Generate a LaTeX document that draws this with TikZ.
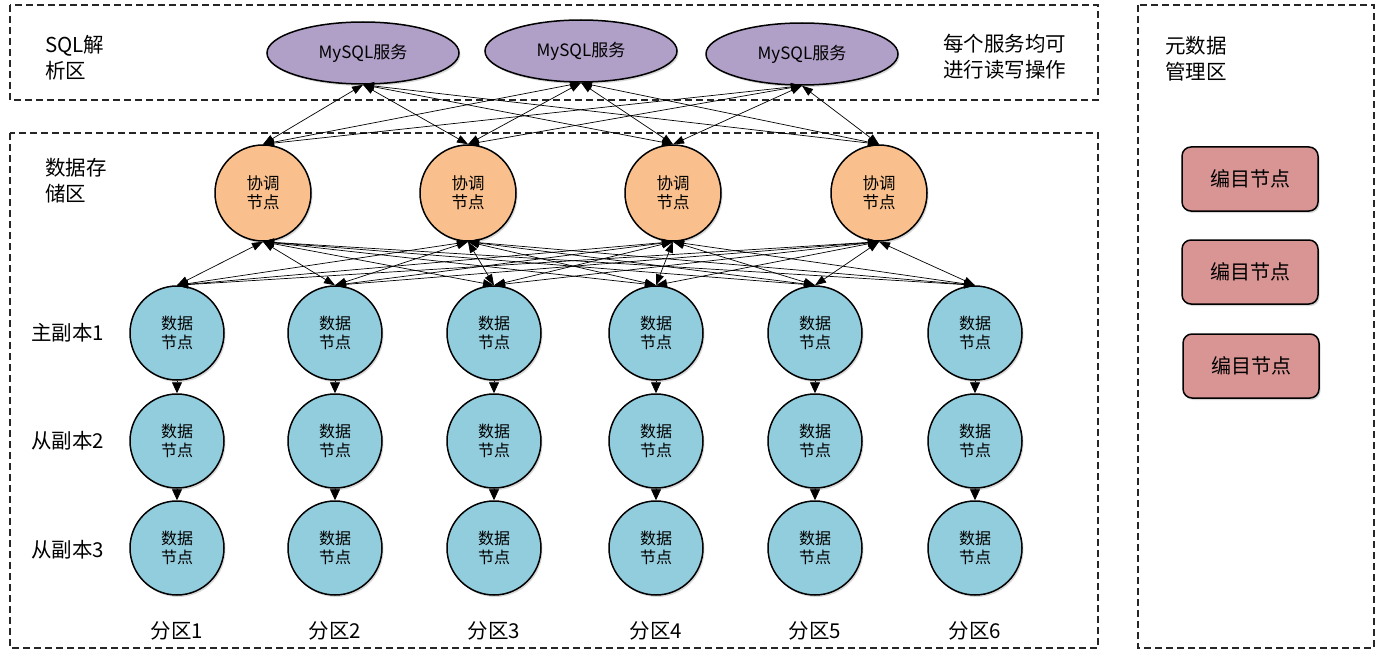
\documentclass[tikz,border=0pt]{standalone}
\usepackage{fontspec}
\setmainfont{Noto Sans CJK SC}
\usetikzlibrary{arrows.meta,shadows,shapes.geometric}

\definecolor{morado}{HTML}{B09FC6}
\definecolor{naranja}{HTML}{F9C08D}
\definecolor{celeste}{HTML}{92CDDD}
\definecolor{rosado}{HTML}{D99594}

\tikzset{
  zona/.style={dashed, dash pattern=on 7pt off 4pt, line width=1.5pt, color=black!85},
  sombra/.style={drop shadow={opacity=0.3, shadow xshift=1.5pt, shadow yshift=-2pt}},
  servicio/.style={ellipse, draw, line width=1.5pt, fill=morado, sombra,
    minimum width=192pt, minimum height=62pt, inner sep=0pt, font=\fontsize{17}{20}\selectfont},
  coordinador/.style={circle, draw, line width=1.5pt, fill=naranja, sombra,
    minimum size=96pt, inner sep=0pt, align=center, font=\fontsize{16.5}{19}\selectfont},
  dato/.style={circle, draw, line width=1.5pt, fill=celeste, sombra,
    minimum size=94pt, inner sep=0pt, align=center, font=\fontsize{16}{19}\selectfont},
  catalogo/.style={rectangle, rounded corners=9pt, draw, line width=1.5pt, fill=rosado, sombra,
    minimum width=136pt, minimum height=64pt, font=\fontsize{20}{24}\selectfont},
  etiqueta/.style={align=left, inner sep=0pt, font=\fontsize{20.5}{26}\selectfont},
  flecha/.style={{Triangle[length=11pt,width=8pt]}-{Triangle[length=11pt,width=8pt]}, line width=0.7pt},
  bajada/.style={-{Triangle[length=11pt,width=10pt]}, line width=0.7pt}
}

\begin{document}
\begin{tikzpicture}[x=1pt, y=-1pt]
  \useasboundingbox (0,0) rectangle (1381,658);

  % Zonas
  \draw[zona] (10,5) rectangle (1098,100);
  \draw[zona] (10,133) rectangle (1098,648);
  \draw[zona] (1138,5) rectangle (1374,648);

  % Textos de las zonas
  \node[etiqueta, anchor=west] (sqlzona) at (45,58) {SQL解\\析区};
  \node[etiqueta, anchor=west] (nota) at (943,57) {每个服务均可\\进行读写操作};
  \node[etiqueta, anchor=west] (almacen) at (45,181) {数据存\\储区};
  \node[etiqueta, anchor=west] (meta) at (1165,59) {元数据\\管理区};

  % Servicios MySQL
  \node[servicio] (mysql1) at (363,53) {MySQL服务};
  \node[servicio] (mysql2) at (581,51) {MySQL服务};
  \node[servicio] (mysql3) at (802,54) {MySQL服务};

  % Coordinadores
  \foreach \x [count=\i] in {263,468,673,879}
    \node[coordinador] (coord\i) at (\x,193) {协调\\节点};

  % Nodos de datos
  \foreach \x [count=\i] in {177,335,494,656,815,975} {
    \node[dato] (datoA\i) at (\x,333) {数据\\节点};
    \node[dato] (datoB\i) at (\x,441) {数据\\节点};
    \node[dato] (datoC\i) at (\x,548) {数据\\节点};
    \node[etiqueta] (particion\i) at (\x,631) {分区\i};
    \draw[bajada] (datoA\i) -- (datoB\i);
    \draw[bajada] (datoB\i) -- (datoC\i);
  }

  % Copias
  \node[etiqueta, anchor=west] (copia1) at (31,333) {主副本1};
  \node[etiqueta, anchor=west] (copia2) at (31,441) {从副本2};
  \node[etiqueta, anchor=west] (copia3) at (31,550) {从副本3};

  % Catalogo
  \node[catalogo] (catalogo1) at (1250,179) {编目节点};
  \node[catalogo] (catalogo2) at (1250,272) {编目节点};
  \node[catalogo] (catalogo3) at (1251,366) {编目节点};

  % Conexiones
  \foreach \i in {1,2,3}
    \foreach \j in {1,2,3,4}
      \draw[flecha] (mysql\i.south) -- (coord\j.north);
  \foreach \j in {1,2,3,4}
    \foreach \k in {1,...,6}
      \draw[flecha] (coord\j.south) -- (datoA\k.north);
\end{tikzpicture}
\end{document}
